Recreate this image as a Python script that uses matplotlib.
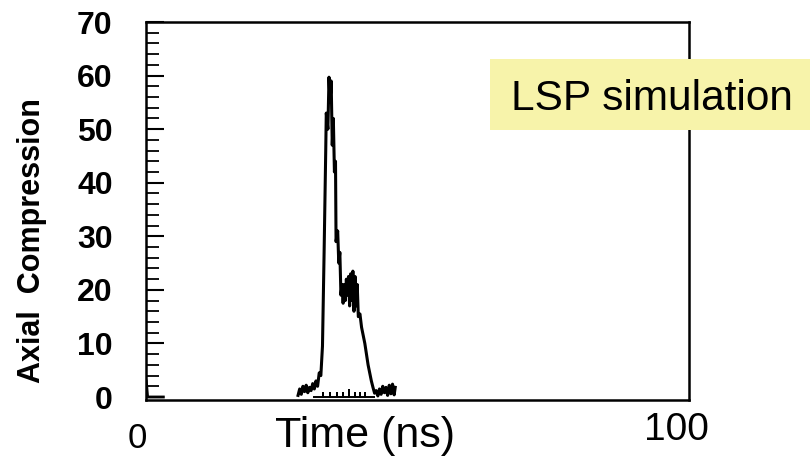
import numpy as np
import matplotlib
matplotlib.use('Agg')
import matplotlib.pyplot as plt
from matplotlib.patches import Rectangle

# axial compression trace, t in ns
t_start = [0.05, 0.15, 0.3, 3.2]
c_start = [3.0, 1.8, 0.0, 0.0]

t_pulse = [28.0, 28.3, 28.6, 28.9, 29.2, 29.5, 29.8, 30.1, 30.4, 30.7,
           31.0, 31.3, 31.6, 31.9, 32.2, 32.5, 32.8, 33.1, 33.2, 33.5,
           33.7, 33.9, 34.1, 34.3, 34.5, 34.7, 34.9, 35.0, 35.3, 35.5,
           35.7, 35.9, 36.1, 36.3, 36.5, 36.7, 36.9, 37.1, 37.3, 37.5,
           37.7, 37.9, 38.1, 38.3, 38.5, 38.7, 38.9, 39.1, 39.4, 39.7,
           40.0, 40.3, 40.6, 40.9, 41.2, 41.5, 41.8, 42.1, 42.4, 42.7,
           43.0, 43.3, 43.6, 43.9, 44.2, 44.5, 44.8, 45.1, 45.4, 45.7,
           45.9]
c_pulse = [0.3, 1.5, 0.5, 2.0, 1.0, 2.2, 0.8, 1.8, 1.2, 2.5,
           1.5, 3.0, 2.0, 4.5, 4.0, 9.5, 27.0, 46.0, 53.0, 50.0,
           59.7, 55.0, 59.0, 47.0, 52.0, 42.0, 44.0, 29.0, 31.0, 25.0,
           27.0, 19.0, 21.0, 17.5, 21.0, 18.0, 22.0, 19.0, 22.5, 17.0,
           23.0, 18.0, 23.5, 16.0, 22.5, 17.0, 21.0, 15.0, 15.5, 13.0,
           11.5, 10.0, 8.0, 6.0, 4.5, 3.0, 1.8, 0.7, 1.2, 0.2,
           1.5, 0.5, 2.0, 0.8, 1.8, 0.3, 2.2, 0.6, 2.4, 0.4,
           1.8]

# small spikes on the zero line under the pulse
t_floor = [31.0, 32.6, 32.6, 32.6, 33.9, 33.9, 33.9, 35.2, 35.2, 35.2,
           36.3, 36.3, 36.3, 37.4, 37.4, 37.4, 38.5, 38.5, 38.5, 39.4,
           39.4, 39.4, 40.3, 40.3, 40.3, 42.0]
c_floor = [0.0, 0.0, 0.8, 0.0, 0.0, 0.8, 0.0, 0.0, 0.8, 0.0,
           0.0, 0.8, 0.0, 0.0, 1.4, 0.0, 0.0, 0.8, 0.0, 0.0,
           0.8, 0.0, 0.0, 0.8, 0.0, 0.0]

fig = plt.figure(figsize=(8.1, 4.61), dpi=100)
ax = fig.add_axes([146/810, 1-400/461, (689-146)/810, (400-22)/461])

ax.plot(t_start, c_start, color='black', lw=2.0)
ax.plot(t_pulse, c_pulse, color='black', lw=2.2)
ax.plot(t_floor, c_floor, color='black', lw=1.4)

ax.set_xlim(0, 100)
ax.set_ylim(-0.56, 70)

for s in ax.spines.values():
    s.set_linewidth(1.8)

ax.set_xticks([])
ax.set_yticks(np.arange(0, 71, 10))
ax.set_yticks(np.arange(0, 71, 2), minor=True)
ax.tick_params(axis='y', which='major', direction='in', length=13, width=1.5,
               pad=24, labelsize=23)
ax.tick_params(axis='y', which='minor', direction='in', length=9, width=1.3)
for label in ax.get_yticklabels():
    label.set_fontweight('bold')
    label.set_fontfamily('Liberation Sans')

# axis texts placed in pixel coords
fig.text(32/810, 1-241/461, 'Axial  Compression', rotation=90,
         ha='center', va='center', fontsize=22, fontweight='bold',
         family='Liberation Sans')
fig.text(137/810, 1-448/461, '0', ha='center', va='baseline',
         fontsize=25, family='Liberation Sans')
fig.text(676/810, 1-440/461, '100', ha='center', va='baseline',
         fontsize=28, family='Liberation Sans')
fig.text(365/810, 1-447/461, 'Time (ns)', ha='center', va='baseline',
         fontsize=31, family='Liberation Sans')

# yellow label box over the right spine
fig.patches.append(Rectangle((490/810, 1-130/461), 330/810, 71/461,
                             transform=fig.transFigure, facecolor='#F7F3AA',
                             edgecolor='none', zorder=5))
fig.text(652/810, 1-110/461, 'LSP simulation', ha='center', va='baseline',
         fontsize=30.5, family='Liberation Sans', zorder=6)

fig.savefig('out.png', dpi=100)
